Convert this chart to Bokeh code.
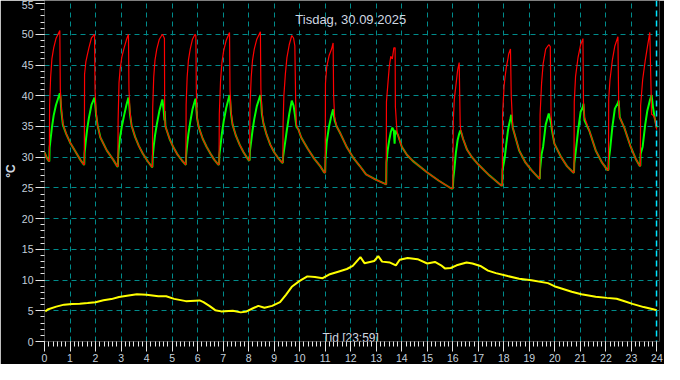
from bokeh.plotting import figure
from bokeh.models import SingleIntervalTicker, FixedTicker, Label, Span
from bokeh.embed import file_html
from bokeh.resources import INLINE

# ---------------- data ----------------
# time in hours, supply (red) and return (green) temperature in °C
t = [
    0.00, 0.10, 0.18,
    0.19, 0.20, 0.24, 0.29, 0.36, 0.45, 0.60, 0.62, 0.66, 0.72, 0.85, 1.00, 1.20, 1.40, 1.54,
    1.56, 1.57, 1.62, 1.67, 1.74, 1.84, 1.96, 1.98, 2.02, 2.08, 2.19, 2.44, 2.69, 2.85,
    2.875, 2.885, 2.92, 2.96, 3.03, 3.12, 3.21, 3.29, 3.31, 3.35, 3.41, 3.55, 3.70, 3.85, 4.05, 4.21,
    4.23, 4.24, 4.28, 4.33, 4.40, 4.50, 4.62, 4.67, 4.70, 4.71, 4.74, 4.90, 5.05, 5.20, 5.38, 5.53,
    5.54, 5.55, 5.59, 5.64, 5.71, 5.80, 5.90, 5.93, 5.95, 5.98, 6.05, 6.20, 6.35, 6.50, 6.65, 6.81,
    6.84, 6.85, 6.90, 6.95, 7.02, 7.12, 7.25, 7.27, 7.31, 7.37, 7.50, 7.65, 7.80, 8.00,
    8.04, 8.05, 8.10, 8.15, 8.22, 8.32, 8.46, 8.48, 8.52, 8.58, 8.70, 8.85, 9.00, 9.15, 9.31,
    9.34, 9.35, 9.38, 9.44, 9.50, 9.59, 9.69, 9.76, 9.81, 9.84, 9.87, 9.95, 10.06, 10.31, 10.56, 10.81, 10.96,
    11.00, 11.01, 11.06, 11.15, 11.25, 11.31, 11.33, 11.37, 11.45, 11.60, 11.85, 12.10, 12.35, 12.60, 13.00, 13.37,
    13.39, 13.40, 13.45, 13.51, 13.57, 13.63, 13.69, 13.72, 13.74, 13.75, 13.81, 13.85, 14.00, 14.20, 14.43, 15.00, 15.44, 15.94,
    16.00, 16.02, 16.06, 16.12, 16.19, 16.25, 16.29, 16.31, 16.40, 16.56, 16.75, 17.00, 17.44, 17.90,
    17.94, 17.95, 18.01, 18.04, 18.10, 18.16, 18.19, 18.26, 18.29, 18.35, 18.60, 18.85, 19.10, 19.39,
    19.41, 19.42, 19.48, 19.54, 19.64, 19.76, 19.82, 19.85, 19.88, 19.98, 20.23, 20.48, 20.72,
    20.75, 20.76, 20.81, 20.91, 21.01, 21.10, 21.12, 21.16, 21.35, 21.60, 21.85, 22.06,
    22.10, 22.11, 22.16, 22.25, 22.35, 22.47, 22.50, 22.54, 22.72, 22.97, 23.16, 23.32,
    23.35, 23.36, 23.44, 23.54, 23.62, 23.72, 23.79, 23.85, 23.91, 23.99,
]
red = [
    30.8, 29.8, 29.3,
    29.4, 38.4, 43.0, 46.0, 47.8, 49.3, 50.6, 41.0, 38.0, 35.5, 33.8, 32.4, 31.0, 29.6, 28.8,
    28.8, 43.5, 45.5, 46.5, 47.8, 49.4, 50.0, 41.0, 37.5, 35.2, 33.2, 31.1, 29.6, 28.5,
    28.5, 36.0, 42.1, 44.2, 46.3, 47.8, 49.1, 50.0, 41.0, 37.5, 35.2, 33.3, 31.8, 30.6, 29.3, 28.4,
    28.4, 38.0, 43.0, 45.8, 47.6, 49.2, 50.0, 49.6, 49.3, 36.5, 35.0, 33.0, 31.6, 30.5, 29.5, 28.8,
    28.8, 38.5, 43.0, 45.8, 47.6, 49.2, 50.0, 49.8, 41.0, 36.5, 34.8, 33.0, 31.7, 30.6, 29.6, 28.8,
    28.8, 37.0, 42.5, 45.3, 47.3, 49.0, 50.3, 41.0, 37.5, 35.3, 33.5, 32.0, 30.8, 29.5,
    29.5, 38.0, 43.0, 45.7, 47.6, 49.2, 50.4, 41.0, 37.5, 35.5, 33.7, 32.0, 30.8, 29.9, 29.1,
    29.1, 35.5, 40.0, 43.6, 46.2, 48.3, 49.8, 49.4, 48.1, 39.7, 35.3, 34.5, 33.2, 31.4, 29.8, 28.5, 27.5,
    27.5, 42.0, 44.7, 46.5, 47.6, 48.6, 40.0, 36.5, 35.0, 33.8, 31.6, 29.9, 28.6, 27.2, 26.3, 25.6,
    25.6, 39.0, 41.6, 44.7, 46.4, 46.0, 47.8, 47.8, 47.8, 38.2, 34.3, 33.6, 31.7, 30.4, 29.4, 27.5, 26.2, 24.9,
    24.9, 36.0, 39.5, 41.6, 44.2, 45.4, 35.3, 34.5, 33.0, 31.2, 30.0, 28.8, 27.0, 25.4,
    25.4, 36.9, 41.6, 42.8, 44.7, 46.0, 46.8, 47.6, 40.0, 34.8, 31.1, 29.1, 27.8, 26.5,
    26.5, 36.9, 42.1, 45.2, 47.6, 48.3, 48.0, 36.9, 35.0, 32.2, 30.1, 28.5, 27.5,
    27.5, 39.0, 43.1, 46.3, 48.3, 49.3, 39.0, 36.5, 34.3, 31.1, 29.1, 27.9,
    27.9, 39.5, 42.6, 45.7, 48.1, 49.6, 39.0, 36.5, 34.8, 31.7, 29.8, 28.6,
    28.6, 38.4, 42.6, 45.7, 47.8, 50.3, 37.0, 36.8, 36.4, 34.5,
]
green = [
    30.8, 29.8, 29.3,
    29.4, 31.5, 33.0, 34.8, 36.8, 38.5, 40.4, 40.0, 37.5, 35.3, 33.8, 32.4, 31.0, 29.6, 28.8,
    28.8, 30.6, 32.7, 34.5, 36.4, 38.5, 39.7, 39.0, 37.0, 35.2, 33.2, 31.1, 29.6, 28.5,
    28.5, 30.0, 31.8, 33.2, 35.0, 36.8, 38.5, 39.7, 39.0, 37.0, 35.2, 33.3, 31.8, 30.6, 29.3, 28.4,
    28.4, 30.0, 31.8, 33.5, 35.3, 37.5, 39.4, 37.6, 36.0, 37.5, 35.0, 33.0, 31.6, 30.5, 29.5, 28.8,
    28.8, 30.3, 32.0, 33.8, 35.7, 37.8, 39.3, 39.5, 38.0, 36.3, 34.8, 33.0, 31.7, 30.6, 29.6, 28.8,
    28.8, 30.3, 32.0, 33.8, 35.8, 38.0, 40.1, 39.5, 37.0, 35.3, 33.5, 32.0, 30.8, 29.5,
    29.5, 31.0, 32.6, 34.3, 36.2, 38.3, 40.1, 39.5, 37.0, 35.5, 33.7, 32.0, 30.8, 29.9, 29.1,
    29.1, 30.1, 31.0, 32.7, 34.5, 37.0, 39.2, 38.4, 37.0, 36.0, 35.0, 34.5, 33.2, 31.4, 29.8, 28.5, 27.5,
    27.5, 29.5, 32.5, 35.0, 36.9, 37.8, 37.0, 36.0, 35.0, 33.8, 31.6, 29.9, 28.6, 27.2, 26.3, 25.6,
    25.6, 29.1, 31.2, 32.8, 34.1, 34.8, 34.3, 32.2, 34.2, 34.3, 33.9, 33.6, 31.7, 30.4, 29.4, 27.5, 26.2, 24.9,
    24.9, 26.5, 28.0, 30.7, 32.8, 33.8, 34.3, 34.3, 33.0, 31.2, 30.0, 28.8, 27.0, 25.4,
    25.4, 28.0, 29.3, 30.1, 32.3, 34.3, 35.0, 36.3, 36.9, 34.8, 31.1, 29.1, 27.8, 26.5,
    26.5, 28.0, 30.5, 31.7, 35.3, 37.1, 36.0, 35.5, 34.5, 32.2, 30.1, 28.5, 27.5,
    27.5, 29.0, 30.6, 34.3, 37.4, 38.2, 38.7, 36.0, 34.3, 31.1, 29.1, 27.9,
    27.9, 29.5, 31.1, 34.8, 37.9, 38.8, 39.2, 36.5, 34.8, 31.7, 29.8, 28.6,
    28.6, 30.5, 31.7, 35.3, 37.5, 39.2, 40.1, 38.0, 36.4, 34.8,
]
# outdoor temperature (yellow)
out_t = [0.03, 0.15, 0.46, 0.77, 1.08, 1.38, 1.69, 2.0, 2.31, 2.62, 2.92, 3.23, 3.62, 4.0, 4.46,
         4.77, 5.08, 5.54, 6.08, 6.23, 6.46, 6.69, 6.92, 7.38, 7.69, 7.92, 8.15, 8.38, 8.62, 8.92,
         9.23, 9.46, 9.69, 10.0, 10.3, 10.6, 10.9, 11.15, 11.54, 11.85, 12.08, 12.38, 12.54, 12.92,
         13.08, 13.23, 13.54, 13.77, 13.92, 14.23, 14.62, 15.0, 15.3, 15.54, 15.69, 15.92, 16.15,
         16.54, 16.77, 17.08, 17.38, 17.69, 18.15, 18.6, 19.08, 19.73, 20.04, 20.35, 20.66, 21.04,
         21.6, 22.04, 22.42, 22.73, 23.04, 23.48, 23.85, 23.99]
out_v = [4.9, 5.26, 5.68, 6.0, 6.1, 6.15, 6.25, 6.4, 6.7, 6.9, 7.25, 7.46, 7.7, 7.6, 7.36,
         7.36, 6.94, 6.57, 6.68, 6.4, 5.8, 5.1, 4.9, 5.0, 4.74, 4.9, 5.37, 5.8, 5.5, 5.8,
         6.4, 7.6, 8.9, 9.87, 10.6, 10.5, 10.3, 10.9, 11.4, 11.8, 12.3, 13.74, 12.75, 13.1,
         13.9, 13.0, 12.85, 12.4, 13.3, 13.6, 13.4, 12.7, 12.95, 12.4, 11.9, 11.96, 12.4,
         12.85, 12.7, 12.3, 11.54, 11.13, 10.65, 10.2, 9.97, 9.5, 8.9, 8.5, 8.1, 7.7,
         7.3, 7.1, 6.96, 6.55, 6.13, 5.6, 5.26, 5.1]

grid_hours = list(range(1, 24))
grid_temps = list(range(5, 55, 5))
now_hour = 23 + 59 / 60
title_text = "Tisdag, 30.09.2025"
time_text = "Tid [23:59]"
unit_text = "°C"

# ---------------- figure ----------------
p = figure(width=664, height=364, x_range=(0, 24.1), y_range=(0, 55.5),
           output_backend="svg", toolbar_location=None,
           background_fill_color="black", border_fill_color="black",
           min_border_left=20, min_border_right=5, min_border_top=0, min_border_bottom=20)
p.outline_line_color = None

tick_col = "#e6e6e6"
lab_col = "#c4d0dc"
for ax in (p.xaxis[0], p.yaxis[0]):
    ax.axis_line_color = None
    ax.major_tick_line_color = tick_col
    ax.minor_tick_line_color = tick_col
    ax.major_tick_in = 0
    ax.minor_tick_in = 0
    ax.major_label_text_color = lab_col
    ax.major_label_text_font = "Liberation Sans"
    ax.major_label_text_font_size = "10.5px"
    ax.major_label_standoff = 2

p.yaxis.axis_label = unit_text
p.yaxis.axis_label_standoff = 1
p.yaxis.axis_label_text_font = "Liberation Sans"
p.yaxis.axis_label_text_font_size = "12px"
p.yaxis.axis_label_text_font_style = "bold"
p.yaxis.axis_label_text_color = "#d0d8e0"

p.xaxis.ticker = SingleIntervalTicker(interval=1, num_minor_ticks=6)
p.yaxis.ticker = SingleIntervalTicker(interval=5, num_minor_ticks=5)
p.xaxis.major_tick_out = 10
p.xaxis.minor_tick_out = 5
p.yaxis.major_tick_out = 9
p.yaxis.minor_tick_out = 4

p.xgrid.ticker = FixedTicker(ticks=grid_hours)
p.ygrid.ticker = FixedTicker(ticks=grid_temps)
for g in (p.xgrid[0], p.ygrid[0]):
    g.grid_line_color = "#008b8b"
    g.grid_line_dash = "5 4"
    g.grid_line_width = 1

p.line(out_t, out_v, line_color="#ffff00", line_width=2)
p.line(t, green, line_color="#00ff00", line_width=2.0)
p.line(t, red, line_color="#ff0000", line_width=1.2)

p.add_layout(Span(location=now_hour, dimension="height", line_color="#00e5ff",
                  line_dash="6 4", line_width=1.5))

p.add_layout(Label(x=12, y=322, x_units="data", y_units="screen", text=title_text,
                   text_align="center", text_baseline="alphabetic",
                   text_color="#d0d8e0", text_font="Liberation Sans", text_font_size="13px"))
p.add_layout(Label(x=12, y=4, x_units="data", y_units="screen", text=time_text,
                   text_align="center", text_baseline="alphabetic",
                   text_color="#d0d8e0", text_font="Liberation Sans", text_font_size="12px"))

open("out.html", "w").write(file_html(p, INLINE))
